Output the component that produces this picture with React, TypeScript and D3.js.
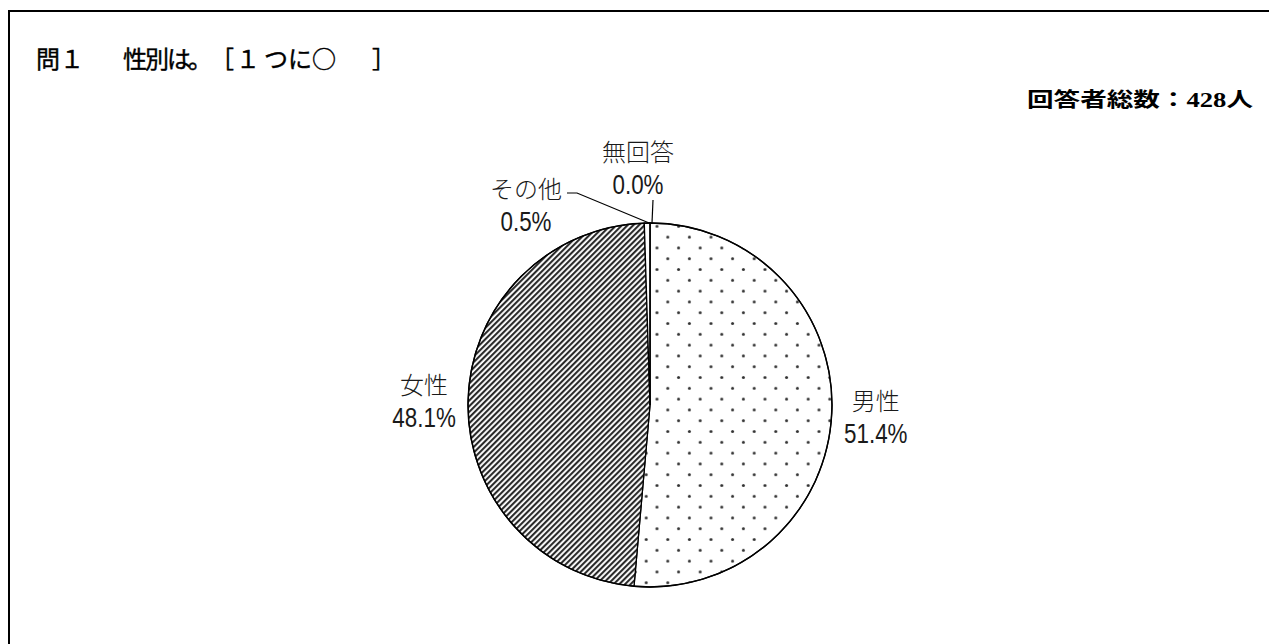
import React from "react";
import { pie, arc, PieArcDatum } from "d3";

const categories = ["男性", "女性", "その他", "無回答"];
const values = [51.4, 48.1, 0.5, 0.0];
const titleText = "問１性別は。［１つに○］";
const totalLabel = "回答者総数：428人";

interface Slice {
  name: string;
  value: number;
}

const data: Slice[] = categories.map((name, i) => ({ name, value: values[i] }));

const W = 1269;
const H = 644;
const cx = 650;
const cy = 405;
const radius = 182;

// per-glyph x of the title (proportional gothic spacing in the source)
const titleX = [36, 60, 123, 145, 167, 188, 210, 236, 264, 288, 312, 372];

// hand-placed labels for the thin slices (offset from pie centre)
const smallLabelOffset: Record<string, [number, number]> = {
  その他: [-124, -202],
  無回答: [-12, -239],
};

const fills: Record<string, string> = {
  男性: "url(#dots)",
  女性: "url(#stripes)",
  その他: "#fff",
  無回答: "#fff",
};

const cjkFont = "'Noto Sans CJK JP', sans-serif";
const numFont = "'Liberation Sans', sans-serif";

const App: React.FC = () => {
  const arcs = pie<Slice>()
    .sort(null)
    .value((d) => d.value)
    .startAngle(0)(data);

  const arcGen = arc<PieArcDatum<Slice>>().innerRadius(0).outerRadius(radius);
  const labelArc = arc<PieArcDatum<Slice>>().innerRadius(226).outerRadius(226);
  const edgeArc = arc<PieArcDatum<Slice>>().innerRadius(radius).outerRadius(radius);

  return (
    <svg
      width={W}
      height={H}
      style={{ position: "absolute", left: 0, top: 0, background: "#fff" }}
    >
      <defs>
        <pattern
          id="dots"
          patternUnits="userSpaceOnUse"
          width={21.6}
          height={21.6}
          x={655 - 5.4}
          y={231.7 - 5.4}
        >
          <rect width={21.6} height={21.6} fill="#fff" />
          <circle cx={5.4} cy={5.4} r={1.5} fill="#333" />
          <circle cx={16.2} cy={16.2} r={1.5} fill="#333" />
        </pattern>
        <pattern
          id="stripes"
          patternUnits="userSpaceOnUse"
          width={4}
          height={4}
          patternTransform="rotate(45)"
        >
          <rect width={4} height={4} fill="#fff" />
          <rect width={2.1} height={4} fill="#2a2a2a" />
        </pattern>
      </defs>

      {/* frame */}
      <path d={`M8,11 H${W} M9,10 V${H}`} stroke="#000" strokeWidth={2} fill="none" />

      <text
        x={titleX.join(" ")}
        y={68}
        fontFamily={cjkFont}
        fontSize={24}
        fill="#000"
        stroke="#000"
        strokeWidth={0.4}
      >
        {titleText}
      </text>
      <text
        x={1027}
        y={107}
        fontFamily={`'Liberation Serif', ${cjkFont}`}
        fontSize={20}
        fontWeight={700}
        textLength={226}
        lengthAdjust="spacingAndGlyphs"
        fill="#000"
      >
        {totalLabel}
      </text>

      <g transform={`translate(${cx},${cy})`}>
        {arcs.map((a) => (
          <path
            key={a.data.name}
            d={arcGen(a) || ""}
            fill={fills[a.data.name]}
            stroke="#000"
            strokeWidth={1.3}
          />
        ))}
        <circle r={radius} fill="none" stroke="#000" strokeWidth={1.4} />

        {arcs.map((a) => {
          const small = smallLabelOffset[a.data.name];
          const [lx, ly] = small ? small : labelArc.centroid(a);
          const edge = edgeArc.centroid(a);
          let leader: string | null = null;
          if (a.data.name === "その他") {
            leader = `M${lx + 41},${ly - 10} H${lx + 51} L${edge[0] + 2},${edge[1]}`;
          } else if (a.data.name === "無回答") {
            leader = `M${lx + 15},${ly + 34} L${edge[0] + 2},${edge[1]}`;
          }
          return (
            <g key={"lbl" + a.data.name}>
              {leader && (
                <path d={leader} stroke="#000" strokeWidth={1.2} fill="none" />
              )}
              <text
                x={lx}
                y={ly - 5}
                textAnchor="middle"
                fontFamily={cjkFont}
                fontSize={24}
                fontWeight={300}
                fill="#1a1a1a"
              >
                {a.data.name}
              </text>
              <g transform={`translate(${lx},${ly + 28}) scale(0.8,1)`}>
                <text
                  textAnchor="middle"
                  fontFamily={numFont}
                  fontSize={28}
                  fill="#1a1a1a"
                >
                  {a.data.value.toFixed(1) + "%"}
                </text>
              </g>
            </g>
          );
        })}
      </g>
    </svg>
  );
};

export default App;
